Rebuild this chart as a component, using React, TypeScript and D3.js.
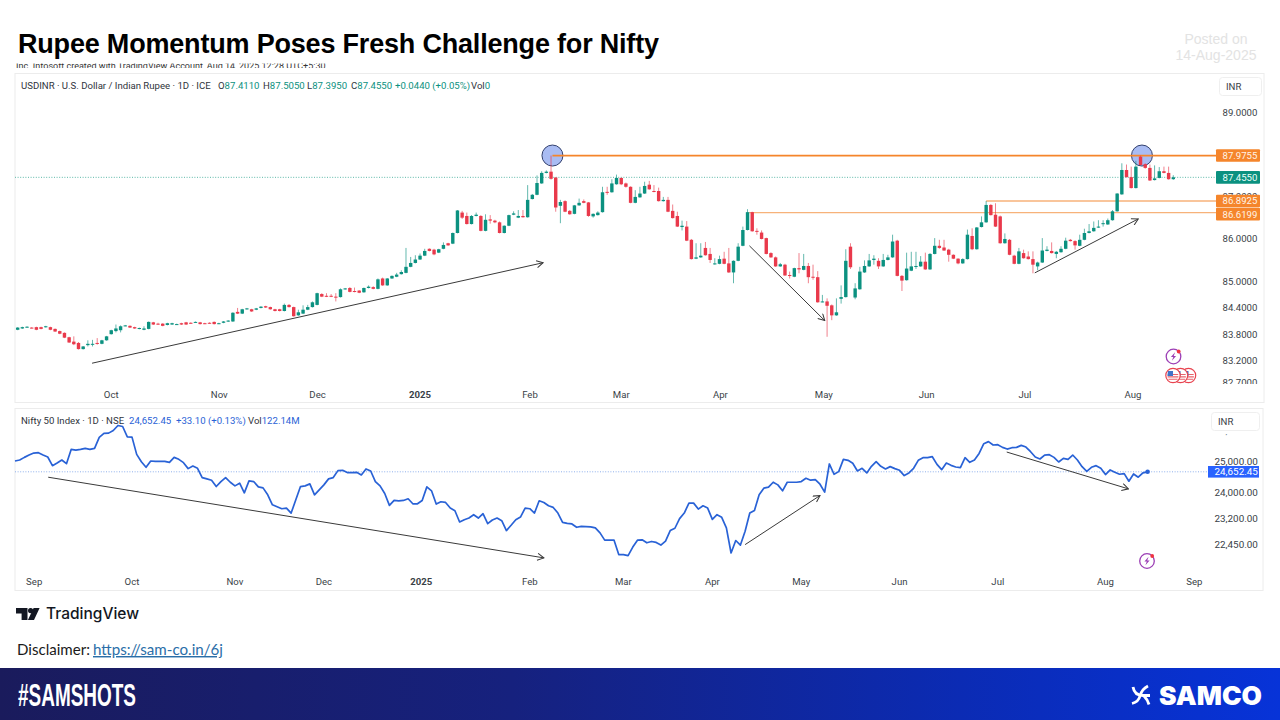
import * as d3 from 'd3'

// USDINR daily candles
const opens = [
  83.90,83.93,83.96,83.95,83.96,83.96,83.96,83.96,83.92,83.87,
  83.83,83.73,83.63,83.60,83.46,83.55,83.56,83.60,83.58,83.66,
  83.80,83.87,83.89,83.99,83.99,83.96,83.92,83.90,83.92,84.07,
  84.04,84.04,84.01,84.02,84.02,84.05,84.07,84.06,84.07,84.07,
  84.05,84.06,84.08,84.04,84.06,84.09,84.09,84.31,84.27,84.37,
  84.37,84.36,84.40,84.44,84.42,84.37,84.37,84.33,84.47,84.42,
  84.23,84.27,84.36,84.42,84.47,84.72,84.68,84.68,84.66,84.65,
  84.83,84.86,84.79,84.80,84.76,84.86,84.88,84.84,85.08,84.92,
  85.08,85.12,85.18,85.21,85.35,85.44,85.52,85.61,85.77,85.75,
  85.68,85.77,85.90,85.89,86.14,86.62,86.54,86.35,86.54,86.54,
  86.19,86.46,86.43,86.39,86.14,86.31,86.57,86.50,86.54,86.51,
  86.94,87.04,87.31,87.56,87.59,87.45,86.78,86.89,86.66,86.59,
  86.79,86.89,86.86,86.53,86.56,86.63,87.11,87.10,87.29,87.44,
  87.31,87.23,86.85,86.98,87.07,87.28,87.13,87.13,86.89,86.92,
  86.66,86.54,86.28,86.29,85.98,85.54,85.57,85.79,85.65,85.42,
  85.42,85.54,85.43,85.22,85.49,85.84,86.21,86.63,86.19,86.15,
  86.02,85.67,85.57,85.36,85.40,85.16,85.12,85.32,85.28,85.37,
  85.12,85.11,84.54,84.55,84.46,84.23,84.61,84.65,85.82,84.64,
  84.83,85.22,85.36,85.51,85.49,85.36,85.51,85.57,85.96,85.14,
  85.04,85.26,85.36,85.36,85.47,85.29,85.65,85.84,85.80,85.75,
  85.63,85.54,85.43,85.53,86.07,85.76,86.28,86.39,86.80,86.57,
  86.53,85.90,85.98,85.61,85.42,85.67,85.59,85.53,85.36,85.45,
  85.72,85.72,85.65,85.69,85.77,85.98,85.95,85.84,85.98,86.14,
  86.18,86.27,86.35,86.34,86.44,86.65,87.05,87.63,87.46,87.20,
  87.95,87.77,87.68,87.39,87.44,87.60,87.56,87.411,
]
const closes = [
  83.95,83.96,83.97,83.94,83.90,83.92,83.98,83.90,83.86,83.81,
  83.72,83.61,83.57,83.46,83.52,83.58,83.58,83.58,83.66,83.75,
  83.89,83.93,83.98,84.00,83.95,83.93,83.94,83.93,84.08,84.02,
  84.02,83.99,84.05,84.05,84.03,84.02,84.02,84.05,84.08,84.03,
  84.04,84.05,84.03,84.05,84.09,84.11,84.29,84.27,84.37,84.39,
  84.32,84.39,84.43,84.41,84.37,84.33,84.33,84.47,84.42,84.21,
  84.30,84.36,84.42,84.53,84.74,84.66,84.66,84.66,84.64,84.83,
  84.85,84.77,84.77,84.75,84.86,84.89,84.84,85.06,84.92,85.08,
  85.14,85.17,85.23,85.35,85.44,85.52,85.61,85.72,85.72,85.64,
  85.76,85.86,85.85,86.14,86.67,86.50,86.35,86.54,86.57,86.19,
  86.45,86.43,86.39,86.14,86.31,86.56,86.60,86.54,86.51,86.92,
  87.04,87.32,87.56,87.59,87.42,86.74,86.87,86.64,86.58,86.79,
  86.85,86.85,86.54,86.59,86.62,87.10,87.09,87.31,87.44,87.29,
  87.23,86.85,86.99,87.07,87.25,87.17,87.11,86.89,86.92,86.64,
  86.49,86.29,86.31,85.96,85.53,85.57,85.61,85.62,85.51,85.43,
  85.53,85.42,85.22,85.49,85.82,86.21,86.63,86.18,86.17,86.00,
  85.65,85.57,85.36,85.41,85.15,85.15,85.32,85.29,85.37,85.11,
  85.11,84.53,84.55,84.45,84.23,84.30,84.65,85.49,85.34,84.85,
  85.24,85.37,85.50,85.54,85.36,85.51,85.57,85.94,85.14,85.03,
  85.31,85.36,85.37,85.47,85.29,85.65,85.84,85.79,85.73,85.63,
  85.54,85.43,85.53,86.10,85.76,86.27,86.39,86.80,86.56,86.29,
  85.90,86.00,85.63,85.42,85.71,85.55,85.53,85.40,85.45,85.73,
  85.75,85.67,85.70,85.77,85.96,85.95,85.85,85.98,86.14,86.18,
  86.26,86.29,86.37,86.44,86.65,87.07,87.63,87.46,87.20,87.71,
  87.75,87.68,87.38,87.43,87.60,87.56,87.41,87.455,
]
const highs = [
  83.96,83.97,83.98,83.96,83.97,83.97,83.99,83.97,83.93,83.88,
  83.84,83.74,83.75,83.62,83.53,83.66,83.67,83.71,83.67,83.76,
  83.90,84.02,84.00,84.01,84.00,83.97,83.95,83.98,84.09,84.08,
  84.06,84.05,84.06,84.06,84.04,84.06,84.08,84.07,84.09,84.08,
  84.06,84.07,84.09,84.06,84.10,84.12,84.30,84.40,84.38,84.40,
  84.38,84.40,84.44,84.45,84.43,84.38,84.38,84.50,84.49,84.43,
  84.36,84.46,84.47,84.55,84.75,84.74,84.74,84.72,84.74,84.85,
  84.86,84.88,84.87,84.81,84.87,84.92,84.90,85.08,85.10,85.09,
  85.15,85.21,85.27,85.79,85.58,85.62,85.66,85.77,85.78,85.77,
  85.77,85.92,85.91,86.15,86.68,86.66,86.62,86.56,86.62,86.56,
  86.58,86.56,86.45,86.41,86.32,86.57,86.65,86.68,86.68,87.27,
  87.06,87.50,87.60,87.62,87.9755,87.46,86.92,86.91,86.68,86.80,
  86.95,86.93,86.87,86.60,86.65,87.23,87.23,87.41,87.52,87.45,
  87.33,87.24,87.15,87.23,87.35,87.37,87.27,87.21,86.99,86.99,
  86.81,86.64,86.43,86.42,86.00,85.90,85.90,85.93,85.79,85.55,
  85.61,85.70,85.79,85.50,85.90,86.29,86.70,86.64,86.25,86.20,
  86.03,85.69,85.59,85.44,85.42,85.24,85.33,85.67,85.65,85.44,
  85.40,85.25,84.70,84.62,84.48,84.62,84.92,85.76,85.90,84.97,
  85.35,85.50,85.65,85.62,85.55,85.65,85.63,86.10,85.98,85.16,
  85.68,85.70,85.70,85.60,85.68,85.67,86.02,85.98,85.98,85.77,
  85.64,85.55,85.55,86.22,86.25,86.28,86.53,86.8925,86.82,86.84,
  86.55,86.13,86.00,85.63,85.79,85.75,85.71,85.71,85.47,86.02,
  85.83,85.92,85.72,85.83,86.03,86.00,85.97,86.10,86.24,86.35,
  86.41,86.44,86.44,86.48,86.68,87.08,87.79,87.76,87.71,87.85,
  87.9755,87.79,87.76,87.74,87.70,87.71,87.71,87.505,
]
const lows = [
  83.89,83.92,83.95,83.93,83.89,83.91,83.95,83.89,83.85,83.80,
  83.71,83.60,83.55,83.45,83.45,83.52,83.52,83.56,83.57,83.65,
  83.79,83.84,83.84,83.98,83.94,83.92,83.91,83.89,83.91,84.01,
  84.01,83.98,84.00,84.01,84.01,84.01,84.01,84.04,84.06,84.02,
  84.03,84.04,84.02,84.03,84.05,84.08,84.08,84.26,84.26,84.36,
  84.31,84.35,84.39,84.40,84.36,84.32,84.32,84.32,84.41,84.20,
  84.22,84.26,84.35,84.41,84.46,84.65,84.65,84.65,84.55,84.64,
  84.82,84.76,84.76,84.74,84.75,84.85,84.83,84.83,84.91,84.91,
  85.07,85.11,85.17,85.20,85.34,85.43,85.51,85.60,85.71,85.62,
  85.67,85.76,85.84,85.88,86.13,86.47,86.34,86.34,86.53,86.18,
  86.18,86.36,86.37,86.13,86.13,86.30,86.56,86.49,86.50,86.50,
  86.93,87.03,87.30,87.55,87.40,86.64,86.37,86.63,86.57,86.58,
  86.78,86.84,86.52,86.50,86.55,86.62,87.04,87.09,87.28,87.27,
  87.21,86.84,86.84,86.97,87.06,87.16,87.10,86.88,86.88,86.63,
  86.48,86.28,86.20,85.95,85.52,85.53,85.56,85.61,85.44,85.40,
  85.41,85.41,85.21,84.97,85.48,85.83,86.20,86.17,86.10,85.99,
  85.64,85.56,85.35,85.35,85.14,85.08,85.11,85.20,85.27,84.97,
  85.05,84.52,84.53,83.74,84.12,84.22,84.50,84.64,85.30,84.60,
  84.82,85.21,85.35,85.40,85.30,85.35,85.50,85.56,85.13,84.79,
  85.03,85.25,85.30,85.35,85.28,85.28,85.64,85.77,85.72,85.47,
  85.53,85.41,85.42,85.52,85.74,85.75,86.27,86.38,86.55,86.28,
  85.89,85.89,85.62,85.41,85.41,85.54,85.52,85.20,85.27,85.44,
  85.71,85.66,85.55,85.68,85.76,85.94,85.75,85.83,85.97,86.13,
  86.17,86.26,86.29,86.33,86.43,86.64,87.04,87.45,87.19,87.19,
  87.74,87.66,87.37,87.38,87.43,87.55,87.40,87.395,
]

// Nifty 50 daily closes
const niftyCloses = [
  25000,25032,25118,25194,25259,25270,25194,25129,24850,24935,
  25032,24914,25379,25357,25379,25412,25379,25412,25775,25909,
  25920,26009,26178,26144,25797,25786,25216,24978,24796,25000,
  24989,24989,24989,24957,25118,25054,24946,24754,24839,24765,
  24469,24427,24385,24186,24343,24469,24321,24207,24290,23989,
  24363,24343,24176,24144,23928,23621,23561,23500,23520,23369,
  23773,24186,24207,24269,23928,24082,24238,24427,24469,24690,
  24701,24627,24627,24637,24553,24744,24679,24343,24207,23969,
  23601,23754,23743,23754,23805,23651,23651,23754,24176,24052,
  23642,23713,23692,23520,23440,23100,23169,23219,23319,23219,
  23349,23050,23160,23219,23140,22844,23002,23169,23249,23520,
  23500,23369,23743,23692,23591,23540,23369,23090,23060,23041,
  22942,22971,22962,22952,22923,22775,22562,22562,22562,22144,
  22144,22114,22360,22562,22572,22485,22524,22495,22418,22534,
  22844,22913,23200,23369,23672,23672,23489,23591,23520,23179,
  23319,23239,22923,22190,22552,22418,22824,23369,23449,23928,
  24134,24166,24321,24238,24052,24321,24321,24321,24343,24447,
  24385,24405,24259,24010,24904,24574,24658,25054,25022,24925,
  24679,24765,24616,24828,24978,24828,24744,24818,24754,24700,
  24531,24616,24765,25022,25107,25107,25140,24892,24721,24935,
  24860,24807,24786,25107,24957,25032,25248,25568,25636,25523,
  25534,25445,25390,25434,25445,25512,25456,25303,25129,25065,
  25194,25205,25118,24968,25086,25054,25194,25032,24818,24669,
  24796,24850,24765,24563,24711,24637,24574,24595,24353,24584,
  24479,24616,24652.45,
]

const usdTickPrices = [89, 87, 86, 85, 84.4, 83.8, 83.2, 82.7]
const usdMonths = ['Oct', 'Nov', 'Dec', '2025', 'Feb', 'Mar', 'Apr', 'May', 'Jun', 'Jul', 'Aug']
const usdMonthBars = [20, 43.1, 64.1, 86, 109.5, 129, 150.2, 172.3, 194.3, 215.3, 238.4]
const niftyTickPrices = [26000, 25000, 24000, 23200, 22450]
const niftyMonths = ['Sep', 'Oct', 'Nov', 'Dec', '2025', 'Feb', 'Mar', 'Apr', 'May', 'Jun', 'Jul', 'Aug', 'Sep']
const niftyMonthBars = [4.1, 25, 47, 66, 86.8, 110, 130, 149, 168, 189, 210, 233, 252]

const levelPrices = [87.9755, 86.8925, 86.6199]
const levelStartBars = [114.3, 207, 156.3]
const circledBars = [114.3, 240.3]
const usdArrows = [
  [15.9, 83.14, 112.3, 85.445],
  [156.4, 85.84, 172.5, 84.11],
  [217.4, 85.21, 239.5, 86.47],
]
const niftyArrows = [
  [7.1, 24480, 113, 22050],
  [156, 22432, 172, 23905],
  [211.9, 25292, 237.9, 24113],
]

const GREEN = '#0b9180'
const RED = '#e9394b'
const ORANGE = '#f5852b'
const BLUE = '#2962d6'
const UI_FONT = 'Roboto, sans-serif'

const barX = d3.scaleLinear().domain([0, opens.length - 1]).range([17.67, 1173.3])
const priceY = d3.scaleLog().domain([82.7, 89]).range([382.7, 113])
const niftyX = d3.scaleLinear().domain([0, niftyCloses.length - 1]).range([15, 1147.6])
const niftyY = d3.scaleLog().domain([22450, 25000]).range([544, 461])

const niftyLine = d3.line<number>()
  .x((_, i) => niftyX(i))
  .y(d => niftyY(d))

function Bolt({ cx, cy }: { cx: number; cy: number }) {
  return (
    <g transform={`translate(${cx},${cy})`}>
      <circle r={7.3} fill="#fff" stroke="#9c3fb5" strokeWidth={1.3} />
      <path d="M1.6-4.2-2.6.6H-.2L-1.6 4.2 2.6-.6H.2Z" fill="#9c3fb5" />
      <circle cx={5.2} cy={-5} r={1.9} fill="#ef3340" />
    </g>
  )
}

function Flag({ cx, cy }: { cx: number; cy: number }) {
  return (
    <g transform={`translate(${cx},${cy})`}>
      <circle r={7.2} fill="#fff" stroke="#e8434f" strokeWidth={1.2} />
      <path d="M-5.2-1H5.2M-5.4 1.4H5.4M-4.6 3.8H4.6" stroke="#e8636c" strokeWidth={1.1} />
      <path d="M-5-4.6H0V.4H-5.6Z" fill="#3f74c9" />
    </g>
  )
}

export default function App() {
  return (
    <svg
      width={1280}
      height={720}
      viewBox="0 0 1280 720"
      style={{ position: 'absolute', left: 0, top: 0, display: 'block', background: '#fff' }}
    >
      <defs>
        <linearGradient id="banner" x1="0" x2="1" y1="0" y2="0">
          <stop offset="0" stopColor="#1a1b5c" />
          <stop offset="0.4" stopColor="#16217e" />
          <stop offset="0.75" stopColor="#0b2bb4" />
          <stop offset="1" stopColor="#0733d8" />
        </linearGradient>
        <marker id="arrow" viewBox="0 0 10 10" refX="9" refY="5" markerWidth="8" markerHeight="8" markerUnits="userSpaceOnUse" orient="auto">
          <path d="M1 0.6 9 5 1 9.4" fill="none" stroke="#3a3a3a" strokeWidth={1.3} />
        </marker>
        <clipPath id="cropLine"><rect x={15} y={63.5} width={320} height={4.5} /></clipPath>
        <clipPath id="usdAxis"><rect x={1210} y={100} width={54} height={284} /></clipPath>
        <clipPath id="niftyAxis"><rect x={1205} y={434.2} width={58} height={120} /></clipPath>
      </defs>

      {/* heading */}
      <text x={18} y={53} fontFamily="'Liberation Sans', Arial, sans-serif" fontWeight={700} fontSize={27} textLength={641} lengthAdjust="spacing" fill="#000">
        Rupee Momentum Poses Fresh Challenge for Nifty
      </text>
      <g fontFamily="'Liberation Sans', Arial, sans-serif" fontSize={14} fill="#e3e3e3" textAnchor="middle">
        <text x={1216} y={44}>Posted on</text>
        <text x={1216} y={60}>14-Aug-2025</text>
      </g>
      <text x={16} y={69} clipPath="url(#cropLine)" fontFamily={UI_FONT} fontSize={9} fill="#333">
        Inc. Infosoft created with TradingView Account, Aug 14, 2025 12:28 UTC+5:30
      </text>

      {/* USDINR panel */}
      <rect x={15} y={73.5} width={1249} height={329} fill="#fff" stroke="#ececec" />
      <line x1={15} x2={1216} y1={priceY(87.455)} y2={priceY(87.455)} stroke="#5cb8a8" strokeWidth={1} strokeDasharray="1 1.6" />
      {circledBars.map(b => (
        <circle key={b} cx={barX(b)} cy={priceY(87.9755)} r={10.5} fill="#a9bcf3" stroke="#33416e" strokeWidth={1} />
      ))}
      {levelPrices.map((p, i) => (
        <line
          key={p}
          x1={barX(levelStartBars[i])}
          x2={1216}
          y1={priceY(p)}
          y2={priceY(p)}
          stroke={i === 0 ? ORANGE : '#f7b27a'}
          strokeWidth={i === 0 ? 1.7 : i === 1 ? 1.6 : 1.3}
        />
      ))}
      {opens.map((o, i) => {
        const c = closes[i]
        const color = c >= o ? GREEN : RED
        const top = priceY(Math.max(o, c))
        const bottom = priceY(Math.min(o, c))
        return (
          <g key={i}>
            <line x1={barX(i)} x2={barX(i)} y1={priceY(highs[i])} y2={priceY(lows[i])} stroke={color} strokeWidth={0.9} opacity={0.7} />
            <rect x={barX(i) - 1.7} y={top} width={3.4} height={Math.max(bottom - top, 1)} fill={color} />
          </g>
        )
      })}
      {usdArrows.map(([b1, p1, b2, p2]) => (
        <line key={b1} x1={barX(b1)} y1={priceY(p1)} x2={barX(b2)} y2={priceY(p2)} stroke="#3a3a3a" strokeWidth={1} markerEnd="url(#arrow)" />
      ))}
      <g fontFamily={UI_FONT} fontSize={9.6}>
        <text x={21} y={88.5} fill="#30343c">USDINR · U.S. Dollar / Indian Rupee · 1D · ICE</text>
        <text x={218} y={88.5} fill={GREEN}><tspan fill="#30343c">O</tspan>87.4110</text>
        <text x={263} y={88.5} fill={GREEN}><tspan fill="#30343c">H</tspan>87.5050</text>
        <text x={307} y={88.5} fill={GREEN}><tspan fill="#30343c">L</tspan>87.3950</text>
        <text x={351} y={88.5} fill={GREEN}><tspan fill="#30343c">C</tspan>87.4550</text>
        <text x={395} y={88.5} fill={GREEN}>+0.0440 (+0.05%)</text>
        <text x={471} y={88.5} fill="#30343c">Vol<tspan fill={GREEN}>0</tspan></text>
      </g>
      <g clipPath="url(#usdAxis)" fontFamily={UI_FONT} fontSize={9.6} fill="#3a3f47">
        {usdTickPrices.map(p => (
          <text key={p} x={1222.5} y={priceY(p)} dy="0.36em">{p.toFixed(4)}</text>
        ))}
      </g>
      <rect x={1219.5} y={77.5} width={42} height={18} rx={3} fill="#fff" stroke="#efefef" />
      <text x={1226} y={90} fontFamily={UI_FONT} fontSize={9.6} fill="#3a3f47">INR</text>
      {levelPrices.map((p, i) => {
        const mid = i === 2 ? priceY(p) + 1.5 : priceY(p)
        return (
          <g key={p}>
            <rect x={1216} y={mid - 6.3} width={44} height={12.6} rx={1} fill={ORANGE} />
            <text x={1222.5} y={mid} dy="0.36em" fontFamily={UI_FONT} fontSize={9.6} fill="#fff3e6">{p.toFixed(4)}</text>
          </g>
        )
      })}
      <rect x={1216} y={priceY(87.455) - 6.3} width={44} height={12.6} rx={1} fill={GREEN} />
      <text x={1222.5} y={priceY(87.455)} dy="0.36em" fontFamily={UI_FONT} fontSize={9.6} fill="#eafff9">87.4550</text>
      {usdMonths.map((m, i) => (
        <text
          key={m}
          x={barX(usdMonthBars[i])}
          y={397.5}
          textAnchor="middle"
          fontFamily={UI_FONT}
          fontSize={9.6}
          fontWeight={m === '2025' ? 700 : 400}
          fill="#3a3f47"
        >{m}</text>
      ))}
      <Bolt cx={1173.5} cy={356.5} />
      <Flag cx={1188.5} cy={375.5} />
      <Flag cx={1180.5} cy={375.5} />
      <Flag cx={1173} cy={375.5} />

      {/* Nifty panel */}
      <rect x={15} y={408.5} width={1248} height={182} fill="#fff" stroke="#ececec" />
      <line x1={15} x2={1208} y1={niftyY(24652.45)} y2={niftyY(24652.45)} stroke="#8fb0ec" strokeWidth={1} strokeDasharray="1 1.6" />
      <path d={niftyLine(niftyCloses) ?? ''} fill="none" stroke={BLUE} strokeWidth={1.7} strokeLinejoin="round" />
      <circle cx={niftyX(niftyCloses.length - 1)} cy={niftyY(24652.45)} r={2.3} fill={BLUE} />
      {niftyArrows.map(([b1, p1, b2, p2]) => (
        <line key={b1} x1={niftyX(b1)} y1={niftyY(p1)} x2={niftyX(b2)} y2={niftyY(p2)} stroke="#3a3a3a" strokeWidth={1} markerEnd="url(#arrow)" />
      ))}
      <g fontFamily={UI_FONT} fontSize={9.6}>
        <text x={21} y={423.5} fill="#30343c">Nifty 50 Index · 1D · NSE</text>
        <text x={129} y={423.5} fill={BLUE}>24,652.45</text>
        <text x={176} y={423.5} fill={BLUE}>+33.10 (+0.13%)</text>
        <text x={248} y={423.5} fill="#30343c">Vol<tspan fill={BLUE}>122.14M</tspan></text>
      </g>
      <g clipPath="url(#niftyAxis)" fontFamily={UI_FONT} fontSize={9.9} fill="#3a3f47">
        {niftyTickPrices.map(p => (
          <text key={p} x={1214.5} y={niftyY(p)} dy="0.36em">{d3.format(',.2f')(p)}</text>
        ))}
      </g>
      <rect x={1211.5} y={412.5} width={48} height={18} rx={3} fill="#fff" stroke="#efefef" />
      <text x={1218} y={425} fontFamily={UI_FONT} fontSize={9.6} fill="#3a3f47">INR</text>
      <rect x={1208} y={niftyY(24652.45) - 5.8} width={51} height={11.6} fill="#2962ff" />
      <text x={1214.5} y={niftyY(24652.45)} dy="0.36em" fontFamily={UI_FONT} fontSize={9.9} fill="#fff">24,652.45</text>
      {niftyMonths.map((m, i) => (
        <text
          key={i}
          x={niftyX(niftyMonthBars[i])}
          y={584.5}
          textAnchor="middle"
          fontFamily={UI_FONT}
          fontSize={9.6}
          fontWeight={m === '2025' ? 700 : 400}
          fill="#3a3f47"
        >{m}</text>
      ))}
      <Bolt cx={1147} cy={561} />

      {/* TradingView mark */}
      <g fill="#131722">
        <path d="M16 608H27.5V620H21.6V613.4H16Z" />
        <circle cx={30.6} cy={610.6} r={2.6} />
        <path d="M33.6 608H39.6L34 620H27.9Z" />
      </g>
      <text x={46} y={619} fontFamily="Inter, sans-serif" fontWeight={500} fontSize={15.4} textLength={93} lengthAdjust="spacingAndGlyphs" fill="#131722">TradingView</text>

      <text x={17} y={655} fontFamily="Lato, sans-serif" fontSize={14.4} textLength={73} lengthAdjust="spacingAndGlyphs" fill="#1a1a1a">Disclaimer:</text>
      <text x={93} y={655} fontFamily="Lato, sans-serif" fontSize={14.4} textLength={130} lengthAdjust="spacingAndGlyphs" fill="#2a6ea8" textDecoration="underline">https://sam-co.in/6j</text>

      {/* footer band */}
      <rect x={0} y={668} width={1280} height={52} fill="url(#banner)" />
      <text x={18} y={706} fontFamily="'Liberation Sans Narrow', 'Liberation Sans', sans-serif" fontWeight={700} fontSize={31} textLength={118} lengthAdjust="spacingAndGlyphs" fill="#fff">
        #SAMSHOTS
      </text>
      <g fill="none" stroke="#fff" strokeWidth={2.8}>
        <path d="M1133 687C1134 693 1138 695.5 1143 695.5H1150" />
        <path d="M1148 686C1144 688 1141 692 1140 696C1139 700 1136 702.5 1132 703.5" />
        <path d="M1144 696C1146 698 1148 701 1149 704.5" />
      </g>
      <text x={1159} y={704.5} fontFamily="Inter, sans-serif" fontWeight={900} fontSize={26} textLength={103} lengthAdjust="spacingAndGlyphs" fill="#fff">
        SAMCO
      </text>
    </svg>
  )
}
